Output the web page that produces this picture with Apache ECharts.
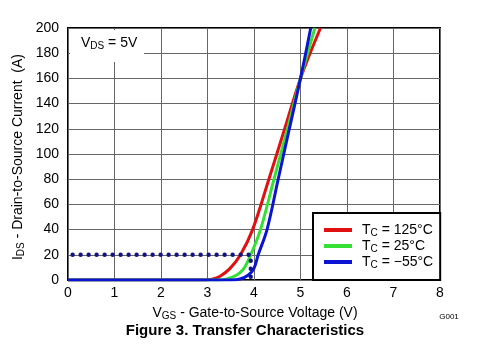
<!DOCTYPE html>
<html>
<head>
<meta charset="utf-8">
<script src="https://cdn.jsdelivr.net/npm/echarts@6/dist/echarts.min.js"></script>
<style>
html,body{margin:0;padding:0;background:#fff;}
#c{width:477px;height:352px;}
</style>
</head>
<body>
<div id="c"></div>
<script>
// Data (VGS in V, IDS in A)
const xTicks = [0, 1, 2, 3, 4, 5, 6, 7, 8];
const yTicks = [0, 20, 40, 60, 80, 100, 120, 140, 160, 180, 200];
const seriesNames = ['TC = 125°C', 'TC = 25°C', 'TC = −55°C'];
const tc125 = [[0,0],[2.95,0],[3.1,0.6],[3.27,3],[3.48,9],[3.71,20],[3.97,40],[4.32,80],[4.66,120],[5.0,160],[5.43,200]];
const tc25 = [[0,0],[3.2,0],[3.4,0.7],[3.63,4],[3.78,9],[3.93,20],[4.14,40],[4.43,80],[4.72,120],[5.0,160],[5.31,200]];
const tcm55 = [[0,0],[3.5,0],[3.7,0.8],[3.88,4],[4.0,9.3],[4.09,20],[4.28,40],[4.52,80],[4.76,120],[5.0,160],[5.22,200]];
const marker20A = [[0.1,20],[3.93,20],[3.93,0]];

const colors = ['#e01010', '#33e033', '#0a14d2'];
const font = 'Liberation Sans, Arial, sans-serif';

const chart = echarts.init(document.getElementById('c'), null, {renderer: 'canvas'});

const legendRich = {
  a: {fontSize: 14, fontFamily: font, color: '#000', lineHeight: 16},
  s: {fontSize: 10, fontFamily: font, color: '#000', lineHeight: 16, verticalAlign: 'bottom', padding: [6, 0, 0, 0]}
};

const curves = [tc125, tc25, tcm55].map((d, i) => ({
  name: seriesNames[i],
  type: 'line',
  data: d,
  showSymbol: false,
  symbol: 'none',
  smooth: 0.35,
  lineStyle: {color: colors[i], width: 3},
  itemStyle: {color: colors[i]},
  z: 3 + i
}));

chart.setOption({
  animation: false,
  backgroundColor: '#fff',
  grid: {left: 68, top: 28, width: 372, height: 252, show: true, borderColor: '#000', borderWidth: 2, backgroundColor: 'transparent'},
  xAxis: {
    type: 'value', min: xTicks[0], max: xTicks[xTicks.length-1], interval: 1,
    axisLine: {show: false}, axisTick: {show: false},
    axisLabel: {fontSize: 14, fontFamily: font, color: '#000', margin: 6},
    splitLine: {show: true, lineStyle: {color: '#666', width: 1}}
  },
  yAxis: {
    type: 'value', min: yTicks[0], max: yTicks[yTicks.length-1], interval: 20,
    axisLine: {show: false}, axisTick: {show: false},
    axisLabel: {fontSize: 14, fontFamily: font, color: '#000', margin: 9},
    splitLine: {show: true, lineStyle: {color: '#666', width: 1}}
  },
  legend: {
    orient: 'vertical',
    left: 313, top: 213,
    padding: [9, 7, 10, 11],
    itemGap: 0,
    itemWidth: 28, itemHeight: 4,
    icon: 'rect',
    backgroundColor: '#fff',
    borderColor: '#000', borderWidth: 2,
    borderRadius: 0,
    data: seriesNames,
    formatter: function (n) {
      return '{a|T}{s|C}{a| = ' + n.split('= ')[1] + '}';
    },
    textStyle: {rich: legendRich, padding: [0, 0, 0, 5]},
    z: 20
  },
  series: [
    ...curves,
    {
      name: 'marker',
      type: 'line',
      data: marker20A,
      symbol: 'none',
      lineStyle: {color: '#12128a', width: 4.4, type: [0, 8], cap: 'round'},
      z: 6,
      silent: true
    }
  ],
  graphic: [
    {type: 'rect', left: 70, top: 30, shape: {width: 74, height: 32}, style: {fill: '#fff'}, z: 10},
    {type: 'text', left: 81, top: 35, z: 11, style: {
      text: '{a|V}{s|DS}{a| = 5V}', rich: legendRich }},
    {type: 'text', z: 11, x: 18, y: 157, rotation: Math.PI/2, style: {
      text: '{a|I}{s|DS}{a| - Drain-to-Source Current  (A)}', rich: legendRich, align: 'center', verticalAlign: 'middle' }},
    {type: 'text', z: 11, x: 255, y: 313, style: {
      text: '{a|V}{s|GS}{a| - Gate-to-Source Voltage (V)}', rich: legendRich, align: 'center', verticalAlign: 'middle' }},
    {type: 'text', z: 11, x: 245, y: 331, style: {
      text: 'Figure 3. Transfer Characteristics', font: 'bold 15px ' + font, fill: '#000', align: 'center', verticalAlign: 'middle' }},
    {type: 'text', z: 11, x: 449, y: 317, style: {
      text: 'G001', font: '8px ' + font, fill: '#000', align: 'center', verticalAlign: 'middle' }}
  ]
});
</script>
</body>
</html>
